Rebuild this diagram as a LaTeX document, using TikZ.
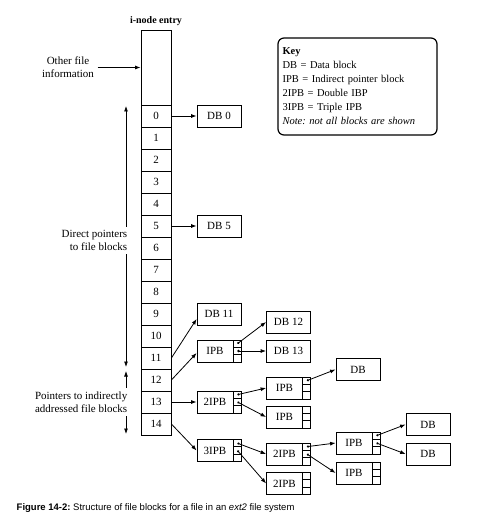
\documentclass[tikz,border=0pt]{standalone}
\usepackage{fontspec}
\setmainfont{Liberation Serif}
\newfontfamily\capfont{Liberation Sans}
\usetikzlibrary{arrows.meta,calc}
\frenchspacing

\tikzset{
  cell/.style={draw, minimum width=30pt, minimum height=22pt, inner sep=0pt},
  dblock/.style={draw, minimum width=44pt, minimum height=22pt, inner sep=0pt},
  pblock/.style={dblock, execute at begin node=\hspace*{-8pt},
    path picture={
      \draw ([xshift=-8pt]path picture bounding box.north east) -- ([xshift=-8pt]path picture bounding box.south east);
      \draw ([xshift=-8pt,yshift=-7.33pt]path picture bounding box.north east) -- ([yshift=-7.33pt]path picture bounding box.north east);
      \draw ([xshift=-8pt,yshift=7.33pt]path picture bounding box.south east) -- ([yshift=7.33pt]path picture bounding box.south east);
    }},
  ptr/.style={-{Latex[length=5.5pt,width=4pt]}},
  sptr/.style={{Circle[open,length=2.2pt]}-{Latex[length=5.5pt,width=4pt]}},
}

\begin{document}
\begin{tikzpicture}[x=1pt, y=-1pt, line width=0.8pt, font=\fontsize{11}{13}\selectfont]
  \useasboundingbox (0,0) rectangle (484,529);
  % i-node entry column
  \node[cell, minimum height=75pt] (info) at (156,67.5) {};
  \node[font=\bfseries, anchor=south] (title) at (info.north) {i-node entry};
  \foreach \i in {0,...,14}
    \node[cell] (r\i) at (156,116+22*\i) {\i};
  % left labels
  \node[align=center] (other) at (68,67.5) {Other file\\information};
  \draw[ptr] (other.east) -- (info.west);
  \coordinate (dtop) at (126,106);
  \coordinate (dbot) at (126,367);
  \coordinate (itop) at (126,371);
  \coordinate (ibot) at (126,434);
  \node[align=right, anchor=east] (direct) at (131,240.5) {Direct pointers\\to file blocks};
  \node[align=right, anchor=east] (indirect) at (131,402) {Pointers to indirectly\\addressed file blocks};
  \draw[ptr] (direct.north -| dtop) -- (dtop);
  \draw[ptr] (direct.south -| dbot) -- (dbot);
  \draw[ptr] (indirect.north -| itop) -- (itop);
  \draw[ptr] (indirect.south -| ibot) -- (ibot);
  % blocks
  \node[dblock] (db0) at (219,116) {DB 0};
  \node[dblock] (db5) at (219,226) {DB 5};
  \node[dblock] (db11) at (219,314) {DB 11};
  \node[pblock] (ipb) at (219,351) {IPB};
  \node[pblock] (dipb) at (219,402) {2IPB};
  \node[pblock] (tipb) at (219,450.5) {3IPB};
  \node[dblock] (db12) at (288.5,322) {DB 12};
  \node[dblock] (db13) at (288.5,351) {DB 13};
  \node[pblock] (ipbA) at (288.5,388) {IPB};
  \node[pblock] (ipbB) at (288.5,417) {IPB};
  \node[dblock] (dbA) at (358,369.5) {DB};
  \node[pblock] (dipbA) at (288.5,454) {2IPB};
  \node[pblock] (dipbB) at (288.5,483.5) {2IPB};
  \node[pblock] (ipbC) at (358,443) {IPB};
  \node[pblock] (ipbD) at (358,473) {IPB};
  \node[dblock] (dbB) at (428,424.5) {DB};
  \node[dblock] (dbC) at (428,454) {DB};
  % pointers
  \draw[ptr] (r0.east) -- (db0.west);
  \draw[ptr] (r5.east) -- (db5.west);
  \draw[ptr] (r11.east) -- ([yshift=-5pt]db11.west);
  \draw[ptr] (r12.east) -- ([yshift=-2pt]ipb.west);
  \draw[ptr] (r13.east) -- (dipb.west);
  \draw[ptr] (r14.east) -- (tipb.west);
  \draw[sptr] ([xshift=-4pt,yshift=7.33pt]ipb.east) -- (db12.west);
  \draw[sptr] ([xshift=-4pt]ipb.east) -- (db13.west);
  \draw[sptr] ([xshift=-4pt,yshift=7.33pt]dipb.east) -- (ipbA.west);
  \draw[sptr] ([xshift=-4pt]dipb.east) -- (ipbB.west);
  \draw[sptr] ([xshift=-4pt,yshift=7.33pt]ipbA.east) -- (dbA.west);
  \draw[sptr] ([xshift=-4pt,yshift=7.33pt]tipb.east) -- (dipbA.west);
  \draw[sptr] ([xshift=-4pt]tipb.east) -- (dipbB.west);
  \draw[sptr] ([xshift=-4pt,yshift=7.33pt]dipbA.east) -- (ipbC.west);
  \draw[sptr] ([xshift=-4pt]dipbA.east) -- (ipbD.west);
  \draw[sptr] ([xshift=-4pt,yshift=7.33pt]ipbC.east) -- (dbB.west);
  \draw[sptr] ([xshift=-4pt]ipbC.east) -- (dbC.west);
  % key
  \node[draw, rounded corners=6pt, line width=1.2pt, minimum width=159pt, minimum height=97pt,
        text width=150pt, align=left, font=\fontsize{10.5}{14}\selectfont] (key) at (357.5,86.5)
    {\textbf{Key}\\DB = Data block\\IPB = Indirect pointer block\\2IPB = Double IBP\\3IPB = Triple IPB\\\textit{Note: not all blocks are shown}};
  % caption
  \node[anchor=west, font=\capfont\fontsize{9.5}{11}\selectfont] (caption) at (13,508)
    {\textbf{Figure 14-2:} Structure of file blocks for a file in an \textit{ext2} file system};
\end{tikzpicture}
\end{document}
